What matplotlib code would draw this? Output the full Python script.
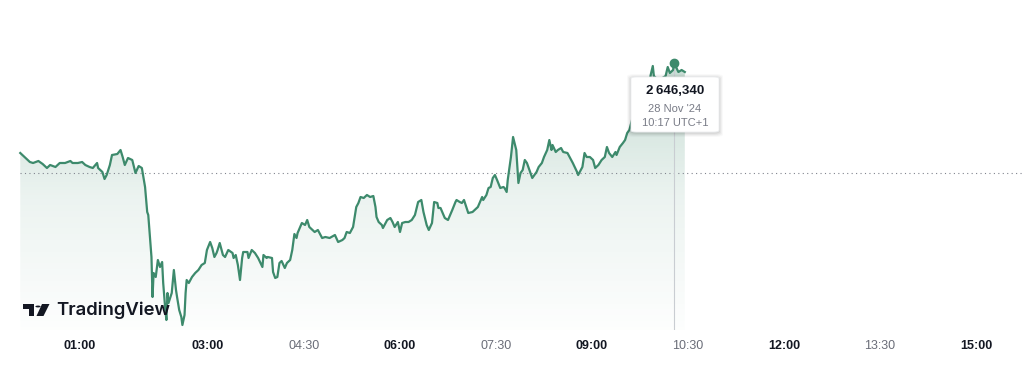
import numpy as np
import matplotlib
matplotlib.use("Agg")
import matplotlib.pyplot as plt
from matplotlib.patches import FancyBboxPatch, Polygon, Circle
from matplotlib.colors import LinearSegmentedColormap

# ---------------- data ----------------
# minutes since 00:00 (UTC+1), 28 Nov '24
minutes = [4, 8, 13, 16, 21, 25, 29, 32, 37, 41, 46, 51, 53, 58, 62, 65, 69, 72, 76, 77,
           81, 83, 85, 88, 90, 95, 98, 100, 102, 105, 109, 112, 115, 118, 121, 123, 124, 127, 128, 129,
           131, 133, 135, 137, 138, 140, 141, 142, 143, 146, 148, 150, 151, 153, 155, 156, 158, 159, 160, 162,
           165, 168, 171, 174, 177, 179, 182, 184, 186, 188, 189, 191, 194, 196, 199, 203, 204, 206, 208, 210,
           212, 213, 217, 218, 221, 224, 227, 231, 232, 235, 236, 240, 241, 243, 245, 247, 249, 252, 254, 257,
           259, 261, 263, 264, 268, 271, 273, 275, 278, 280, 283, 287, 290, 294, 299, 302, 306, 308, 310, 313,
           316, 319, 321, 323, 326, 329, 332, 335, 337, 338, 340, 343, 344, 348, 351, 353, 355, 358, 360, 362,
           365, 368, 371, 374, 377, 380, 382, 385, 387, 390, 392, 395, 396, 398, 400, 402, 405, 409, 412, 413,
           416, 418, 420, 423, 424, 428, 430, 433, 437, 438, 441, 443, 445, 447, 449, 451, 454, 457, 458, 460,
           461, 464, 466, 469, 471, 473, 475, 477, 479, 482, 484, 486, 488, 490, 493, 495, 498, 500, 502, 503,
           506, 508, 511, 513, 517, 519, 522, 526, 527, 531, 533, 535, 538, 541, 543, 546, 549, 552, 554, 556,
           559, 562, 563, 566, 569, 571, 573, 575, 578, 583, 588, 593, 595, 597, 598, 602, 606, 609, 611, 613,
           616, 617, 621, 624, 627]
prices = [2623840, 2622840, 2621590, 2621340, 2621840, 2621090, 2620090, 2620840, 2620340, 2621340,
          2621340, 2621840, 2621340, 2621340, 2621590, 2620840, 2620340, 2620090, 2621340, 2620090,
          2619090, 2617340, 2618340, 2620840, 2623340, 2623590, 2624590, 2622840, 2620840, 2622590,
          2622090, 2618840, 2620590, 2620090, 2615340, 2609090, 2608340, 2597840, 2587840, 2593840,
          2592840, 2597090, 2595340, 2596590, 2591340, 2584590, 2582090, 2588840, 2586340, 2588840,
          2594590, 2589590, 2587840, 2584590, 2582840, 2580840, 2583340, 2588840, 2592090, 2591340,
          2592840, 2593840, 2594590, 2595840, 2596340, 2599590, 2601590, 2600090, 2597840, 2598840,
          2599590, 2601340, 2598340, 2597840, 2599590, 2598840, 2597590, 2598340, 2595840, 2592090,
          2597590, 2599090, 2599090, 2597590, 2599590, 2598840, 2597590, 2595340, 2598340, 2597590,
          2597840, 2597590, 2594090, 2592590, 2592840, 2596340, 2596840, 2595090, 2596340, 2597090,
          2599590, 2603590, 2602590, 2603840, 2606340, 2605840, 2607090, 2605340, 2604590, 2604090,
          2604590, 2602590, 2602840, 2602590, 2603340, 2601590, 2602090, 2602590, 2604090, 2603840,
          2605340, 2610340, 2611340, 2612840, 2612590, 2613340, 2612840, 2613090, 2610340, 2607840,
          2606590, 2605840, 2605090, 2607090, 2607590, 2606590, 2605340, 2606590, 2604090, 2606340,
          2606590, 2606590, 2607090, 2608340, 2611590, 2612090, 2609090, 2605840, 2604590, 2606340,
          2611590, 2611340, 2610090, 2610090, 2608840, 2607590, 2607090, 2609590, 2611590, 2612090,
          2611590, 2611340, 2612090, 2609590, 2608840, 2609090, 2609590, 2610340, 2612840, 2612090,
          2613340, 2615090, 2615340, 2617590, 2618340, 2617090, 2615090, 2615340, 2615090, 2614090,
          2617090, 2622840, 2627840, 2624590, 2616340, 2618840, 2619590, 2622090, 2621340, 2619090,
          2617590, 2618340, 2619090, 2620340, 2621340, 2622840, 2624590, 2627090, 2624590, 2625840,
          2624090, 2624590, 2625090, 2624090, 2623840, 2622840, 2621340, 2619090, 2618340, 2620340,
          2623840, 2622840, 2622840, 2622090, 2620090, 2620840, 2622090, 2622840, 2625340, 2623840,
          2622840, 2624090, 2623340, 2625340, 2626340, 2627090, 2628840, 2629590, 2632590, 2635840,
          2637590, 2640090, 2643340, 2645590, 2643090, 2642090, 2642590, 2643090, 2645340, 2643840,
          2644590, 2646340, 2644090, 2644590, 2644090]
prev_close = 2618840

hover_minute = 617
hover_price = 2646340
hover_value_label = "2\u2009646,340"
hover_date_label = "28 Nov '24"
hover_time_label = "10:17 UTC+1"

tick_hours = [1.0, 3.0, 4.5, 6.0, 7.5, 9.0, 10.5, 12.0, 13.5, 15.0]
tick_labels = ["01:00", "03:00", "04:30", "06:00", "07:30", "09:00", "10:30", "12:00", "13:30", "15:00"]
tick_bold = [True, True, False, True, False, True, False, True, False, True]

# ---------------- figure ----------------
W, H = 1024, 370
fig = plt.figure(figsize=(W / 100, H / 100), dpi=100)
fig.patch.set_facecolor("white")

ax = fig.add_axes([0, 40 / H, 1, 330 / H])
ax.set_facecolor("white")
for s in ax.spines.values():
    s.set_visible(False)

hours = np.array(minutes) / 60.0
vals = np.array(prices, dtype=float)

x0, x1 = -0.25, 15.75
y_bot, y_top = 2579590, 2662090
ax.set_xlim(x0, x1)
ax.set_ylim(y_bot, y_top)

green = "#3d8a6c"

# gradient area fill
poly = ax.fill_between(hours, vals, y_bot, color="none", lw=0)
cmap = LinearSegmentedColormap.from_list(
    "g", [(0.24, 0.54, 0.42, 0.01), (0.24, 0.54, 0.42, 0.10), (0.24, 0.54, 0.42, 0.30)])
grad = np.linspace(0, 1, 256).reshape(-1, 1)
im = ax.imshow(grad, cmap=cmap, aspect="auto", origin="lower",
               extent=[x0, x1, y_bot, hover_price], zorder=1, interpolation="bilinear")
path = poly.get_paths()[0]
im.set_clip_path(path, transform=ax.transData)

# previous close dotted line
ax.plot([hours[0], x1], [prev_close, prev_close], color="#80848e", lw=0.8,
        linestyle=(0, (1, 3)), zorder=2)

# vertical crosshair
hx = hover_minute / 60.0
ax.plot([hx, hx], [y_bot, hover_price], color="#c9cdd2", lw=0.8, zorder=2)

# price line
ax.plot(hours, vals, color=green, lw=1.6, zorder=3, solid_joinstyle="round")

# hover marker
ax.plot([hx], [hover_price], "o", color=green, ms=6, zorder=4)

# ticks
ax.set_yticks([])
ax.set_xticks(tick_hours)
ax.set_xticklabels(tick_labels)
ax.tick_params(axis="x", length=0, pad=7)
for lab, b in zip(ax.get_xticklabels(), tick_bold):
    lab.set_fontfamily("Liberation Sans")
    lab.set_fontsize(9)
    if b:
        lab.set_fontweight("bold")
        lab.set_color("#131722")
    else:
        lab.set_color("#6a6d78")

# ---------------- tooltip ----------------
def fx(px):
    return px / W

def fy(py):
    return 1 - py / H

tl, tr, tt, tb = 631, 719, 77, 132
for off, a in [(4, 0.025), (3, 0.035), (2, 0.045), (1, 0.05)]:
    sh = FancyBboxPatch((fx(tl - off), fy(tb + off + 1)), fx(tr - tl + 2 * off), (tb - tt + 2 * off) / H,
                        boxstyle="round,pad=0,rounding_size=0.007", transform=fig.transFigure,
                        facecolor=(0, 0, 0, a), edgecolor="none", zorder=9)
    fig.add_artist(sh)
box = FancyBboxPatch((fx(tl), fy(tb)), fx(tr - tl), (tb - tt) / H,
                     boxstyle="round,pad=0,rounding_size=0.005", transform=fig.transFigure,
                     facecolor="white", edgecolor="#eceef0", lw=0.6, zorder=10)
fig.add_artist(box)
cx = fx((tl + tr) / 2)
fig.text(cx, fy(91), hover_value_label, ha="center", va="center", fontsize=9.5,
         fontweight="bold", color="#131722", family=["Liberation Sans", "DejaVu Sans"], zorder=11)
fig.text(cx, fy(109), hover_date_label, ha="center", va="center", fontsize=8,
         color="#787b86", family=["Liberation Sans", "DejaVu Sans"], zorder=11)
fig.text(cx, fy(123), hover_time_label, ha="center", va="center", fontsize=8,
         color="#787b86", family=["Liberation Sans", "DejaVu Sans"], zorder=11)

# ---------------- TradingView logo ----------------
logo_c = "#131722"
tshape = [(23, 304), (34, 304), (34, 316), (29, 316), (29, 309), (23, 309)]
fig.add_artist(Polygon([(fx(a), fy(b)) for a, b in tshape], closed=True,
                       transform=fig.transFigure, facecolor=logo_c, edgecolor="none", zorder=12))
fig.add_artist(Circle((fx(38), fy(306.5)), 2.6 / W, transform=fig.transFigure,
                      facecolor=logo_c, edgecolor="none", zorder=12))
slash = [(42, 304), (49.5, 304), (43.5, 316), (36.5, 316)]
fig.add_artist(Polygon([(fx(a), fy(b)) for a, b in slash], closed=True,
                       transform=fig.transFigure, facecolor=logo_c, edgecolor="none", zorder=12))
fig.text(fx(56), fy(310), "TradingView", ha="left", va="center", fontsize=13.3,
         fontweight="semibold", color=logo_c, family="Inter", zorder=12)

fig.savefig("out.png", dpi=100, facecolor="white")
